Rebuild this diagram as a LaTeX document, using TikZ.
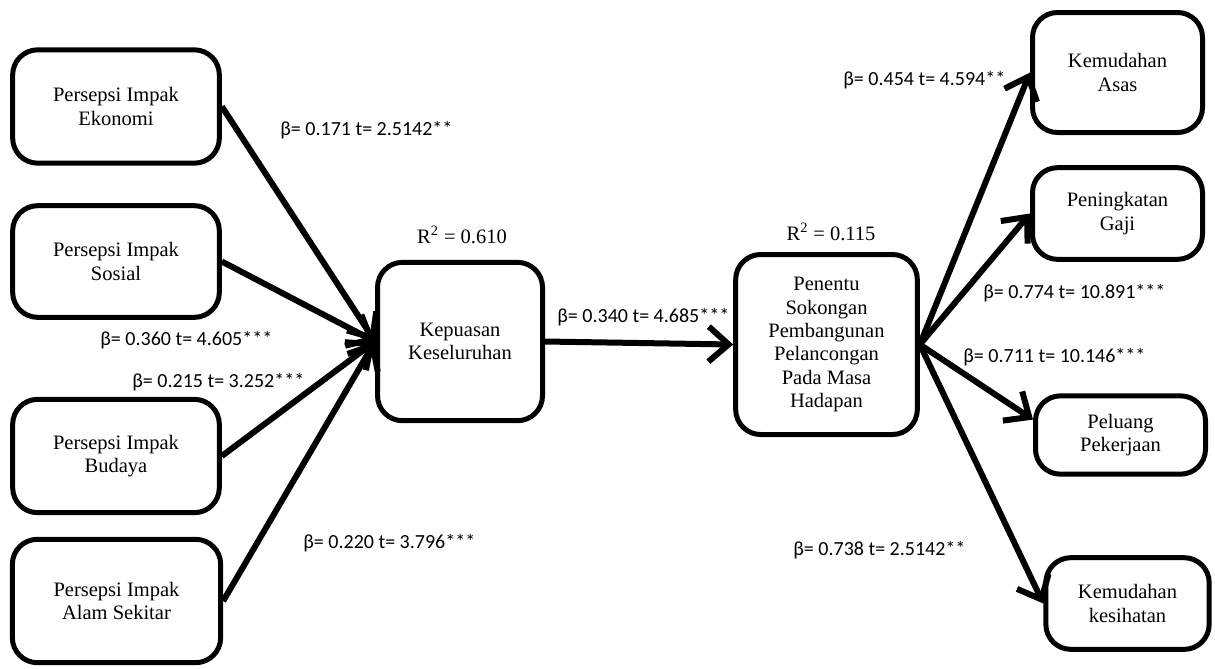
\documentclass[tikz,border=0pt]{standalone}
\usepackage{fontspec}
\setmainfont{Liberation Serif}
\newfontfamily\lblfont{Carlito}
\usetikzlibrary{arrows.meta,positioning}

\begin{document}
\begin{tikzpicture}[x=0.6pt,y=-0.6pt,
  box/.style={draw,line width=3pt,rounded corners=15pt,align=center,inner sep=0pt,font=\fontsize{12.3}{14}\selectfont},
  coef/.style={anchor=west,inner sep=0pt,font=\lblfont\fontsize{12}{14}\selectfont},
  rsq/.style={inner sep=0pt,font=\fontsize{12.3}{14}\selectfont},
  link/.style={line width=3.6pt,-{Straight Barb[length=12pt,width=21pt]}}]
\useasboundingbox (0,0) rectangle (1215,668);
\node[box,minimum width=124pt,minimum height=68pt] (eko) at (116,106.5) {Persepsi Impak\\Ekonomi};
\node[box,minimum width=124pt,minimum height=67pt] (sos) at (116,261.5) {Persepsi Impak\\Sosial};
\node[box,minimum width=124pt,minimum height=68pt] (bud) at (116,456) {Persepsi Impak\\Budaya};
\node[box,minimum width=125pt,minimum height=74pt] (alam) at (116.5,601) {Persepsi Impak\\Alam Sekitar};
\node[box,minimum width=99pt,minimum height=95pt] (kep) at (460,341.5) {Kepuasan\\Keseluruhan};
\node[box,minimum width=109pt,minimum height=108pt] (pen) at (826.5,344.5) {Penentu\\Sokongan\\Pembangunan\\Pelancongan\\Pada Masa\\Hadapan};
\node[box,minimum width=102pt,minimum height=72pt] (asas) at (1117.5,72.5) {Kemudahan\\Asas};
\node[box,minimum width=102pt,minimum height=55pt] (gaji) at (1117.5,213.5) {Peningkatan\\Gaji};
\node[box,minimum width=102pt,minimum height=47pt] (pel) at (1120.5,435) {Peluang\\Pekerjaan};
\node[box,minimum width=98pt,minimum height=55pt] (kes) at (1127.5,603.5) {Kemudahan\\kesihatan};
\node[rsq] (r2kep) at (462,235) {R\textsuperscript{2} = 0.610};
\node[rsq] (r2pen) at (831,232) {R\textsuperscript{2} = 0.115};
\draw[link] (eko.east) -- (kep.west);
\draw[link] (sos.east) -- (kep.west);
\draw[link] (bud.east) -- (kep.west);
\draw[link] (alam.east) -- (kep.west);
\draw[link] (kep.east) -- (pen.west);
\draw[link] (pen.east) -- (asas.west);
\draw[link] (pen.east) -- (gaji.west);
\draw[link] (pen.east) -- (pel.170);
\draw[link] (pen.east) -- (kes.west);
\node[coef] at (280,130) {β= 0.171 t= 2.5142**};
\node[coef] at (100,340) {β= 0.360 t= 4.605***};
\node[coef] at (132,382) {β= 0.215 t= 3.252***};
\node[coef] at (303,543) {β= 0.220 t= 3.796***};
\node[coef] at (557,317) {β= 0.340 t= 4.685***};
\node[coef] at (843,80) {β= 0.454 t= 4.594**};
\node[coef] at (983,293) {β= 0.774 t= 10.891***};
\node[coef] at (963,357) {β= 0.711 t= 10.146***};
\node[coef] at (793,550) {β= 0.738 t= 2.5142**};
\end{tikzpicture}
\end{document}
